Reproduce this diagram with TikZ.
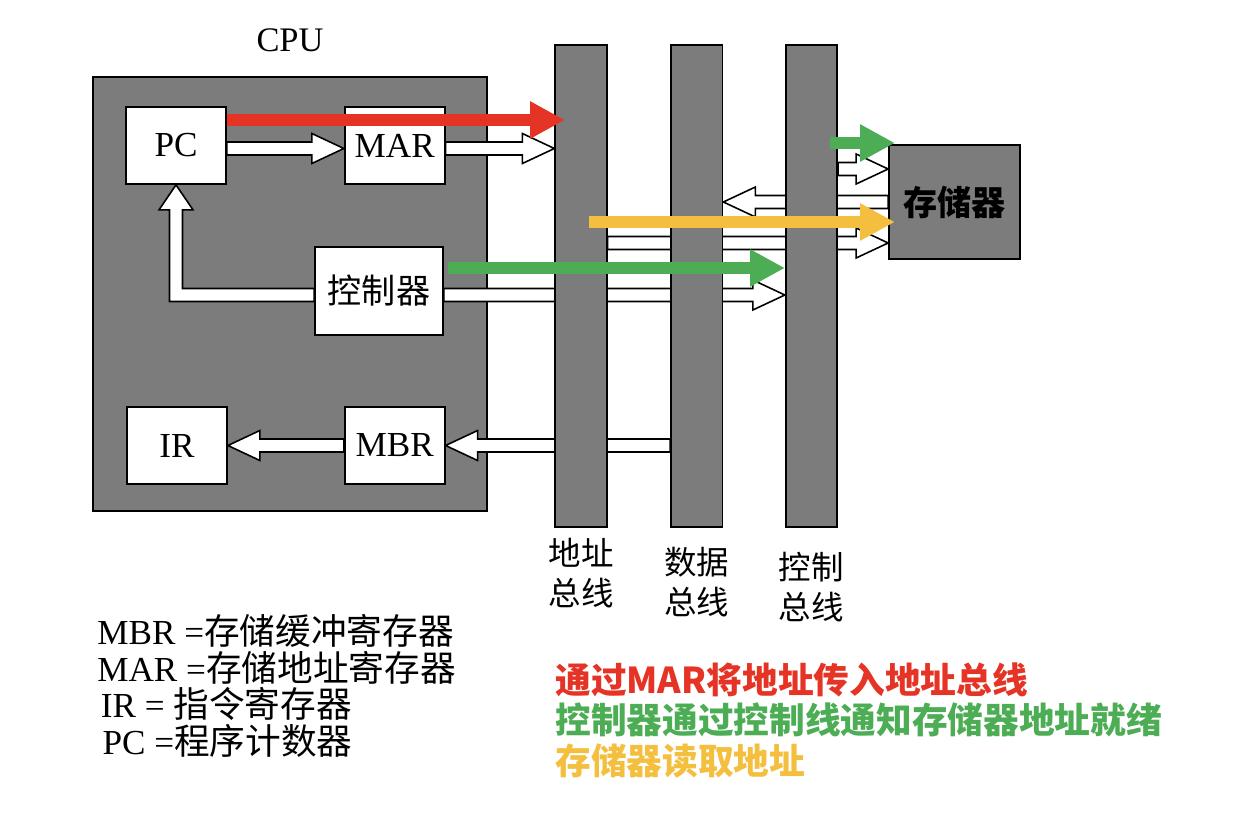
\documentclass[tikz,border=0pt]{standalone}
\usepackage{fontspec}
\setmainfont{Liberation Serif}
\newfontfamily\cjk{Noto Sans CJK SC}
\usetikzlibrary{arrows.meta, positioning, calc}

\definecolor{notered}{HTML}{E53325}
\definecolor{notegreen}{HTML}{4CAD55}
\definecolor{noteyellow}{HTML}{F4BF3F}
\definecolor{panelgray}{HTML}{7C7C7C}

\pgfdeclarelayer{bottom}
\pgfdeclarelayer{behind}
\pgfdeclarelayer{top}
\pgfsetlayers{bottom,behind,main,top}

\newcommand{\shaftw}{0.13cm}
\newcommand{\headw}{0.30cm}
\newcommand{\headl}{0.64cm}
\newcommand{\zh}[1]{{\cjk\fontsize{20.3}{20.9}\selectfont #1}}

\begin{document}
\begin{tikzpicture}[
    x=0.02cm, y=-0.02cm,
    cpubox/.style={rectangle, draw, line width=1pt, fill=panelgray, inner sep=0pt,
                minimum width=7.88cm, minimum height=8.68cm},
    reg/.style={rectangle, draw, line width=1pt, fill=white, inner sep=0pt,
                minimum width=2cm, minimum height=1.54cm, font=\fontsize{20}{24}\selectfont},
    bus/.style={rectangle, draw, line width=1pt, fill=panelgray, inner sep=0pt,
                minimum width=1.03cm, minimum height=9.64cm},
    membox/.style={rectangle, draw, line width=1pt, fill=panelgray, inner sep=0pt,
                minimum width=2.62cm, minimum height=2.28cm,
                font=\cjk\bfseries\fontsize{19.4}{22}\selectfont},
    buslabel/.style={font=\cjk\fontsize{18.5}{22.8}\selectfont, align=center, inner sep=0pt},
    hollow/.style={draw, fill=white, line width=0.9pt,
        to path={let \p1=(\tikztostart), \p2=(\tikztotarget),
                 \n1={ifthenelse(\x2>\x1,1,-1)} in
          (\x1,{\y1+\shaftw}) -- ({\x2-\n1*\headl},{\y1+\shaftw})
          -- ({\x2-\n1*\headl},{\y1+\headw}) -- (\x2,\y1)
          -- ({\x2-\n1*\headl},{\y1-\headw}) -- ({\x2-\n1*\headl},{\y1-\shaftw})
          -- (\x1,{\y1-\shaftw}) -- cycle}},
    hollowup/.style={draw, fill=white, line width=0.9pt,
        to path={let \p1=(\tikztostart), \p2=(\tikztotarget) in
          (\x1,{\y1+\shaftw}) -- ({\x2+\shaftw},{\y1+\shaftw})
          -- ({\x2+\shaftw},{\y2-0.5cm}) -- ({\x2+0.34cm},{\y2-0.5cm}) -- (\x2,\y2)
          -- ({\x2-0.34cm},{\y2-0.5cm}) -- ({\x2-\shaftw},{\y2-0.5cm})
          -- ({\x2-\shaftw},{\y1-\shaftw}) -- (\x1,{\y1-\shaftw}) -- cycle}},
    note/.style={line width=0.24cm, -{Triangle[length=0.7cm, width=0.7cm]}}
]
\useasboundingbox (0,0) rectangle (1234,828);

% CPU
\begin{pgfonlayer}{bottom}
\node[cpubox] (cpu) at (290,294) {};
\end{pgfonlayer}
\node[font=\fontsize{19.6}{22}\selectfont, inner sep=0pt, above=0.48cm of cpu] (cpulabel) {CPU};

\node[reg] (pc) at (176,145.5) {PC};
\node[reg, right=2.34cm of pc] (mar) {MAR};
\node[reg, minimum width=2.56cm, minimum height=1.76cm,
      font=\cjk\fontsize{19.4}{22}\selectfont] (ctrl) at (379,291) {控制器};
\node[reg] (ir) at (177,445.5) {IR};
\node[reg, right=2.32cm of ir] (mbr) {MBR};

% buses and memory
\node[bus] (abus) at (581,286) {};
\node[bus, right=1.25cm of abus] (dbus) {};
\node[bus, right=1.23cm of dbus] (cbus) {};
\node[membox] (mem) at (954.5,202) {存储器};

\node[buslabel, below=0.2cm of abus] (alabel) {地址\\总线};
\node[buslabel, below=0.38cm of dbus] (dlabel) {数据\\总线};
\node[buslabel, below=0.48cm of cbus] (clabel) {控制\\总线};

% hollow data paths
\coordinate (marout) at ([yshift=-0.06cm]mar.east);
\coordinate (ctrlout) at ([yshift=-0.08cm]ctrl.east);
\coordinate (amem) at ([yshift=-0.82cm]mem.west);
\coordinate (cmem) at ([yshift=0.66cm]mem.west);
\begin{pgfonlayer}{behind}
\draw[hollow] ([yshift=-0.06cm]pc.east) to ([yshift=-0.06cm]mar.west);
\draw[hollow] (marout) to (abus.west |- marout);
\draw[hollowup] ([yshift=-0.08cm]ctrl.west) to (pc.south);
\draw[hollow] (ctrlout) to (cbus.west |- ctrlout);
\draw[hollow] (dbus.west |- mbr.east) to (mbr.east);
\draw[hollow] (mbr.west) to (ir.east);
\draw[hollow] (cbus.east |- cmem) to (cmem);
\draw[hollow] (mem.west) to (dbus.east |- mem.west);
\draw[hollow] (abus.east |- amem) to (amem);
\end{pgfonlayer}

% legend
\node[anchor=north west, align=left, inner sep=0pt,
      font=\fontsize{20}{20.9}\selectfont] (legend) at (97,614)
  {MBR =\zh{存储缓冲寄存器}\\
   MAR =\zh{存储地址寄存器}\\
   \hspace{2pt}IR = \zh{指令寄存器}\\
   \hspace{3pt}PC =\zh{程序计数器}};

% annotations
\node[anchor=north west, align=left, inner sep=0pt,
      font=\cjk\bfseries\fontsize{20.3}{23.3}\selectfont] (steps) at (555,662)
  {\textcolor{notered}{通过MAR将地址传入地址总线}\\
   \textcolor{notegreen}{控制器通过控制线通知存储器地址就绪}\\
   \textcolor{noteyellow}{存储器读取地址}};

\coordinate (redtip) at (565,120);
\coordinate (gtail) at (830,143);
\coordinate (gtip) at (895,143);
\coordinate (ytail) at (589,222);
\coordinate (ytip) at (895,222);
\coordinate (gctip) at (785,268);
\begin{pgfonlayer}{top}
\draw[note, notered] (pc.east |- redtip) -- (redtip);
\draw[note, notegreen] (gtail) -- (gtip);
\draw[note, noteyellow] (ytail) -- (ytip);
\draw[note, notegreen] ([xshift=0.08cm]ctrl.east |- gctip) -- (gctip);
\end{pgfonlayer}
\end{tikzpicture}
\end{document}
